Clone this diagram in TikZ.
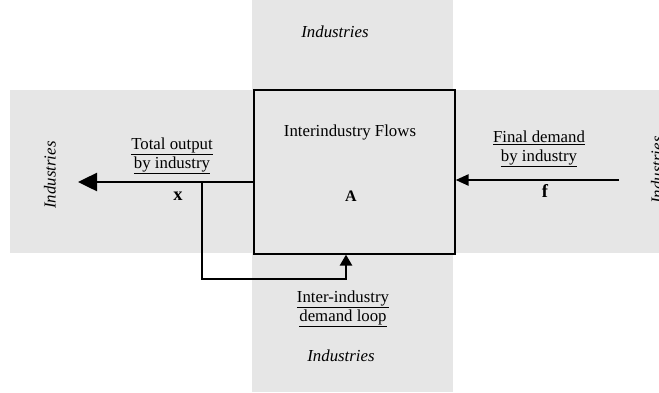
\documentclass[tikz,border=0pt]{standalone}
\usepackage{fontspec}
\setmainfont{Liberation Serif}
\usetikzlibrary{arrows.meta,positioning}
\definecolor{bandgray}{HTML}{E6E6E6}

\begin{document}
\begin{tikzpicture}[x=1pt,y=-1pt,
	flow/.style={line width=2.5pt},
	ulabel/.style={align=center, inner sep=0pt, font=\fontsize{16.8}{19}\selectfont},
	ind/.style={inner sep=0pt, font=\itshape\fontsize{16.8}{19}\selectfont},
	sym/.style={inner sep=0pt, font=\bfseries\fontsize{18.5}{20}\selectfont},
]
	\useasboundingbox (0,0) rectangle (659,392);
	% industry bands
	\fill[bandgray] (252,0) rectangle (453,392);
	\fill[bandgray] (10,90) rectangle (659,253);
	% coefficient box
	\node[draw, line width=1.2pt, minimum width=201pt, minimum height=164pt, inner sep=0pt] (box) at (354.5,172) {};
	\node[ulabel] (flows) at (350,132) {Interindustry Flows};
	\node[sym, font=\bfseries\fontsize{16}{18}\selectfont] (amat) at (351,196) {A};
	% band titles
	\node[ind] (indtop) at (335,32) {Industries};
	\node[ind] (indbot) at (341,356) {Industries};
	\node[ind, rotate=90] (indleft) at (50,175) {Industries};
	\node[ind, rotate=90] (indright) at (657,170) {Industries};
	% flow labels
	\node[ulabel] (outlab) at (172,156) {\underline{Total output}\\\underline{by industry}};
	\node[sym] (xvec) at (178,196) {x};
	\node[ulabel] (finlab) at (539,149) {\underline{Final demand}\\\underline{by industry}};
	\node[sym] (fvec) at (545,191) {f};
	\node[ulabel] (looplab) at (343,309) {\underline{Inter-industry}\\\underline{demand loop}};
	% connectors
	\coordinate (xtip) at (78,182);
	\coordinate (split) at (202,182);
	\coordinate (loop) at (346,279);
	\coordinate (fstart) at (619,180);
	\draw[flow, -{Triangle[length=19pt,width=18pt]}] (box.west |- xtip) -- (xtip);
	\draw[flow, -{Triangle[length=11pt,width=12pt]}] (split) |- (loop) -- (loop |- box.south);
	\draw[flow, -{Triangle[length=13pt,width=11pt]}] (fstart) -- (fstart -| box.east);
\end{tikzpicture}
\end{document}
